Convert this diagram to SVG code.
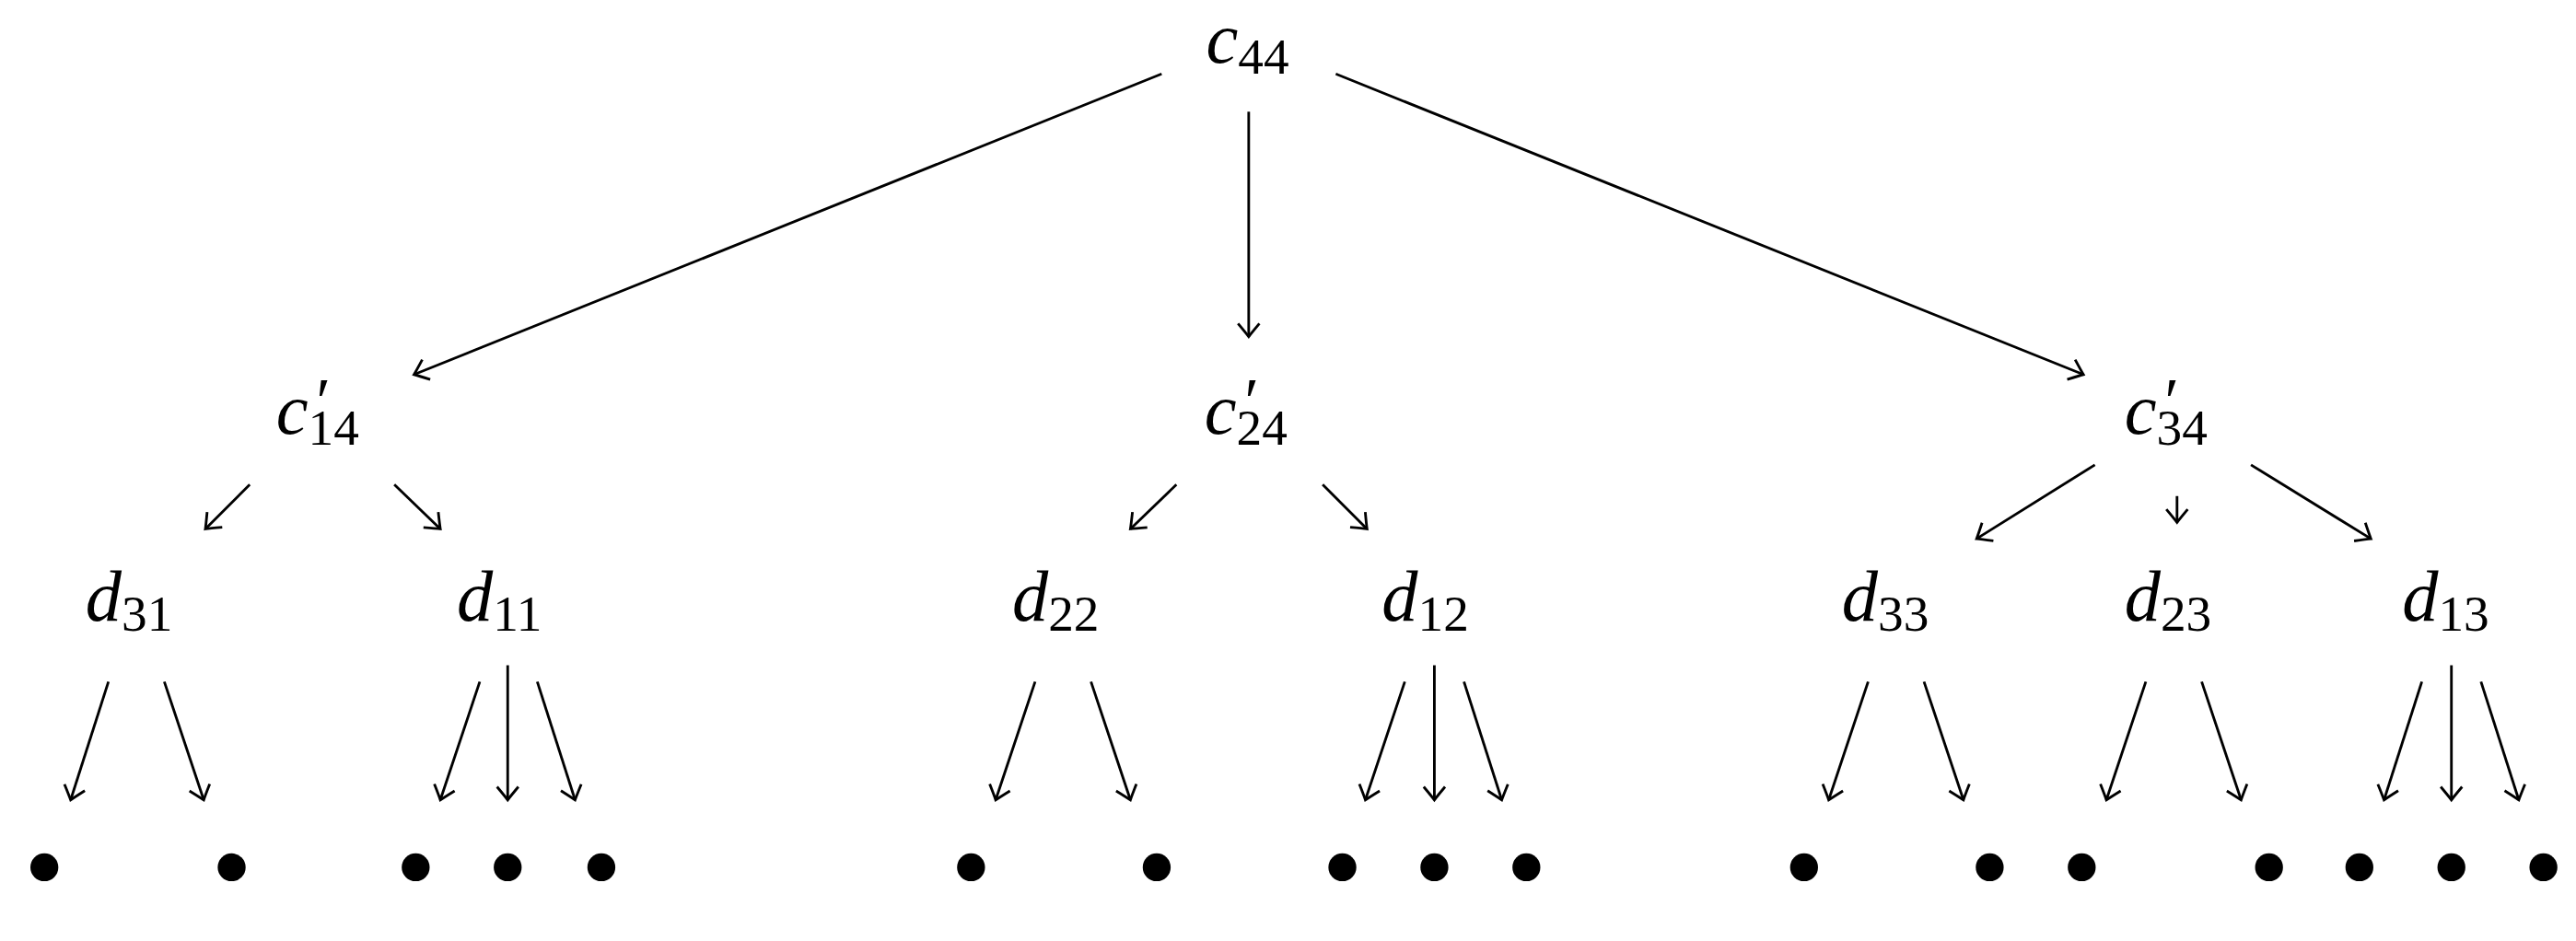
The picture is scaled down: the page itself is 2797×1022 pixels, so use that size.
<svg xmlns="http://www.w3.org/2000/svg" width="2797" height="1022" viewBox="0 0 2797 1022">
<defs>
<style>
.t{font-family:"Liberation Serif","Times New Roman",serif;font-size:44px;fill:#000}
.i{font-style:italic}
.s{font-size:31px}
.p{font-family:"Liberation Serif","Times New Roman",serif;font-size:40px;fill:#000}
.e{stroke:#000;stroke-width:1.6;fill:none;marker-end:url(#a)}
.d{fill:#000}
</style>
<marker id="a" markerUnits="userSpaceOnUse" viewBox="-10 -8 12 16" markerWidth="12" markerHeight="16" refX="0" refY="0" orient="auto" overflow="visible">
<path d="M-8,-6.5 Q-2,-1.5 0,0 Q-2,1.5 -8,6.5" fill="none" stroke="#000" stroke-width="1.6"/>
</marker>
</defs>
<rect width="2797" height="1022" fill="#fff"/>
<g transform="scale(1.784)">
<g id="connectors">
<line class="e" x1="707" y1="45" x2="252" y2="228"/>
<line class="e" x1="760" y1="68" x2="760" y2="205"/>
<line class="e" x1="813" y1="45" x2="1268" y2="228"/>
<line class="e" x1="152" y1="295" x2="125" y2="322"/>
<line class="e" x1="240" y1="295" x2="268" y2="322"/>
<line class="e" x1="716" y1="295" x2="688" y2="322"/>
<line class="e" x1="805" y1="295" x2="832" y2="322"/>
<line class="e" x1="1275" y1="283" x2="1203" y2="328"/>
<line class="e" x1="1325" y1="302" x2="1325" y2="318"/>
<line class="e" x1="1370" y1="283" x2="1443" y2="328"/>
<line class="e" x1="66" y1="415" x2="43" y2="487"/>
<line class="e" x1="100" y1="415" x2="124" y2="487"/>
<line class="e" x1="292" y1="415" x2="268" y2="487"/>
<line class="e" x1="309" y1="405" x2="309" y2="487"/>
<line class="e" x1="327" y1="415" x2="350" y2="487"/>
<line class="e" x1="630" y1="415" x2="606" y2="487"/>
<line class="e" x1="664" y1="415" x2="688" y2="487"/>
<line class="e" x1="855" y1="415" x2="831" y2="487"/>
<line class="e" x1="873" y1="405" x2="873" y2="487"/>
<line class="e" x1="891" y1="415" x2="914" y2="487"/>
<line class="e" x1="1137" y1="415" x2="1113" y2="487"/>
<line class="e" x1="1171" y1="415" x2="1195" y2="487"/>
<line class="e" x1="1306" y1="415" x2="1282" y2="487"/>
<line class="e" x1="1340" y1="415" x2="1364" y2="487"/>
<line class="e" x1="1474" y1="415" x2="1451" y2="487"/>
<line class="e" x1="1492" y1="405" x2="1492" y2="487"/>
<line class="e" x1="1510" y1="415" x2="1533" y2="487"/>
</g>
<g id="c44"><text class="t" x="734" y="38"><tspan class="i">c</tspan><tspan class="s" dy="7">44</tspan></text></g>
<g id="c14"><text class="t" x="168" y="264"><tspan class="i">c</tspan><tspan class="s" dy="7">14</tspan></text><text class="p i" x="190" y="258">′</text></g>
<g id="c24"><text class="t" x="733" y="264"><tspan class="i">c</tspan><tspan class="s" dy="7">24</tspan></text><text class="p i" x="755" y="258">′</text></g>
<g id="c34"><text class="t" x="1293" y="264"><tspan class="i">c</tspan><tspan class="s" dy="7">34</tspan></text><text class="p i" x="1315" y="258">′</text></g>
<g id="d31"><text class="t" x="52" y="378"><tspan class="i">d</tspan><tspan class="s" dy="6">31</tspan></text></g>
<g id="d11"><text class="t" x="278" y="378"><tspan class="i">d</tspan><tspan class="s" dy="6">11</tspan></text></g>
<g id="d22"><text class="t" x="616" y="378"><tspan class="i">d</tspan><tspan class="s" dy="6">22</tspan></text></g>
<g id="d12"><text class="t" x="841" y="378"><tspan class="i">d</tspan><tspan class="s" dy="6">12</tspan></text></g>
<g id="d33"><text class="t" x="1121" y="378"><tspan class="i">d</tspan><tspan class="s" dy="6">33</tspan></text></g>
<g id="d23"><text class="t" x="1293" y="378"><tspan class="i">d</tspan><tspan class="s" dy="6">23</tspan></text></g>
<g id="d13"><text class="t" x="1462" y="378"><tspan class="i">d</tspan><tspan class="s" dy="6">13</tspan></text></g>
<g id="leaves">
<circle class="d" cx="27" cy="528" r="8.5"/><circle class="d" cx="141" cy="528" r="8.5"/>
<circle class="d" cx="253" cy="528" r="8.5"/><circle class="d" cx="309" cy="528" r="8.5"/><circle class="d" cx="366" cy="528" r="8.5"/>
<circle class="d" cx="591" cy="528" r="8.5"/><circle class="d" cx="704" cy="528" r="8.5"/>
<circle class="d" cx="817" cy="528" r="8.5"/><circle class="d" cx="873" cy="528" r="8.5"/><circle class="d" cx="929" cy="528" r="8.5"/>
<circle class="d" cx="1098" cy="528" r="8.5"/><circle class="d" cx="1211" cy="528" r="8.5"/>
<circle class="d" cx="1267" cy="528" r="8.5"/><circle class="d" cx="1381" cy="528" r="8.5"/>
<circle class="d" cx="1436" cy="528" r="8.5"/><circle class="d" cx="1492" cy="528" r="8.5"/><circle class="d" cx="1548" cy="528" r="8.5"/>
</g>
</g>
</svg>
